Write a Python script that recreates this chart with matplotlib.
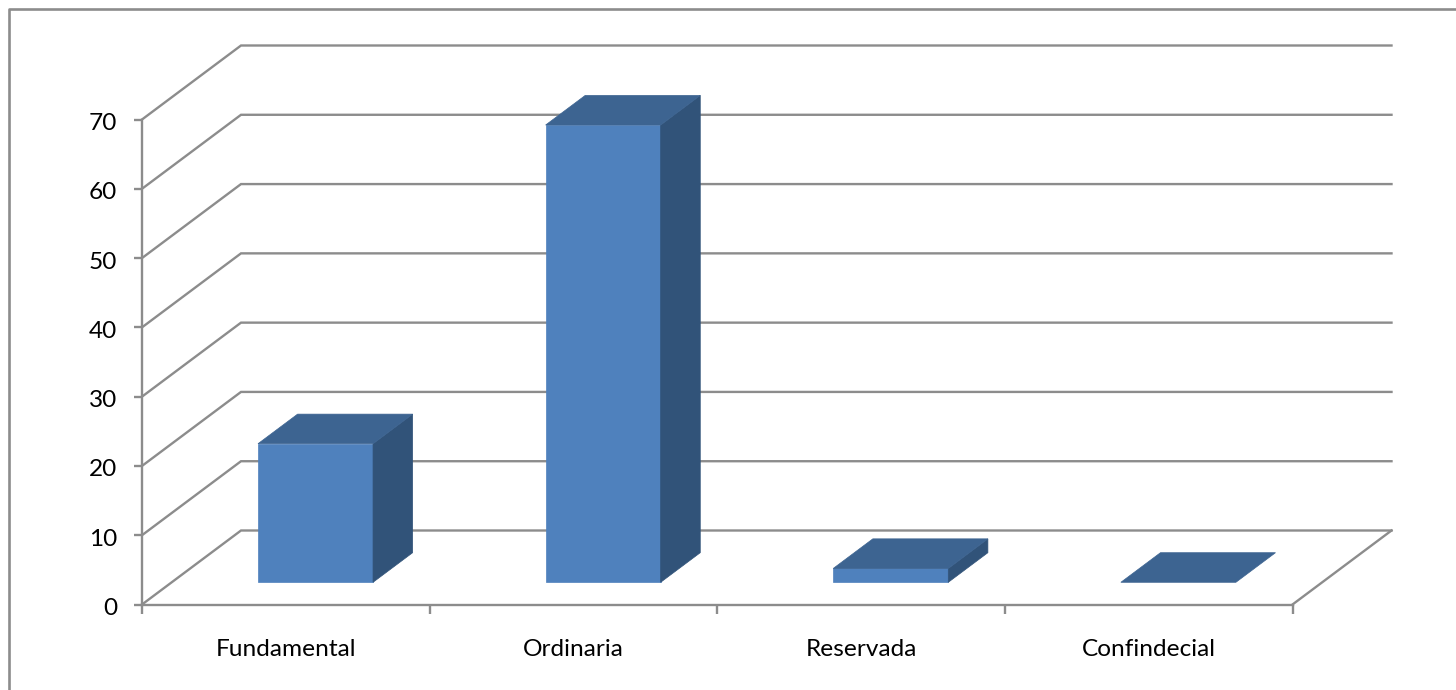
import matplotlib
matplotlib.use('Agg')
import matplotlib.pyplot as plt
from matplotlib.lines import Line2D
from matplotlib.transforms import ScaledTranslation

# Data
categories = ['Fundamental', 'Ordinaria', 'Reservada', 'Confindecial']
values = [20, 66, 2, 0]
y_ticks = [0, 10, 20, 30, 40, 50, 60, 70]

W, H = 1456, 690
GRAY = '#8c8c8c'
FRONT = '#4f81bd'
TOP = '#3d6491'
SIDE = '#315379'

plt.rcParams['font.family'] = ['Lato', 'DejaVu Sans']

fig = plt.figure(figsize=(W / 100, H / 100), dpi=100)

# axes = front plane of the 3D box
left, right, top, bottom = 142, 1292.5, 119.5, 604.5
ax = fig.add_axes([left / W, 1 - bottom / H, (right - left) / W, (bottom - top) / H])
ax.set_xlim(0, len(categories))
ax.set_ylim(0, 70)
ax.patch.set_alpha(0)

# depth of the box, in data units
depth_x = 99 / ((right - left) / len(categories))
depth_y = 74 / ((bottom - top) / 70)


def project(x, y, d):
    # d goes from 0 (front) to 1 (back wall)
    return x + d * depth_x, y + d * depth_y


# gridlines: along the side wall, then along the back wall
for v in y_ticks:
    x0, y0 = project(0, v, 0)
    x1, y1 = project(0, v, 1)
    x2, y2 = project(len(categories), v, 1)
    ax.plot([x0, x1, x2], [y0, y1, y2], color=GRAY, lw=1.7, clip_on=False, zorder=1,
            solid_joinstyle='miter')

# right edge of the floor
x0, y0 = project(len(categories), 0, 0)
x1, y1 = project(len(categories), 0, 1)
ax.plot([x0, x1], [y0, y1], color=GRAY, lw=1.7, clip_on=False, zorder=1)

# bars
bar_w = 0.4
for i, val in enumerate(values):
    xl = i + (1 - bar_w) / 2
    xr = xl + bar_w
    d0, d1 = 0.3, 0.7
    front = [project(xl, 0, d0), project(xr, 0, d0), project(xr, val, d0), project(xl, val, d0)]
    side = [project(xr, 0, d0), project(xr, 0, d1), project(xr, val, d1), project(xr, val, d0)]
    lid = [project(xl, val, d0), project(xr, val, d0), project(xr, val, d1), project(xl, val, d1)]
    if val > 0:
        ax.fill(*zip(*front), facecolor=FRONT, edgecolor=FRONT, lw=0.5, clip_on=False, zorder=3)
        ax.fill(*zip(*side), facecolor=SIDE, edgecolor=SIDE, lw=0.5, clip_on=False, zorder=3)
    ax.fill(*zip(*lid), facecolor=TOP, edgecolor=TOP, lw=0.5, clip_on=False, zorder=3)

# axes
for s in ['top', 'right']:
    ax.spines[s].set_visible(False)
for s in ['left', 'bottom']:
    ax.spines[s].set_color(GRAY)
    ax.spines[s].set_linewidth(1.7)
    ax.spines[s].set_zorder(2)

ax.set_yticks(y_ticks)
ax.tick_params(axis='y', length=6, width=1.7, color=GRAY, pad=12, labelsize=17.6, labelcolor='black')
ax.set_xticks(range(len(categories) + 1))
ax.set_xticklabels([])
ax.tick_params(axis='x', which='major', length=6.5, width=1.7, color=GRAY)
ax.set_xticks([i + 0.5 for i in range(len(categories))], minor=True)
ax.set_xticklabels(categories, minor=True)
ax.tick_params(axis='x', which='minor', length=0, pad=24.5, labelsize=17.6, labelcolor='black')

# y labels sit about 2 px lower in the original
nudge = ScaledTranslation(0, -2 / 100, fig.dpi_scale_trans)
for lab in ax.get_yticklabels():
    lab.set_transform(lab.get_transform() + nudge)

# outer chart border, only top and left show
fig.add_artist(Line2D([9 / W, 9 / W, 1], [0, 1 - 8.5 / H, 1 - 8.5 / H], color=GRAY, lw=1.9))

fig.savefig('out.png', dpi=100, facecolor='white')
